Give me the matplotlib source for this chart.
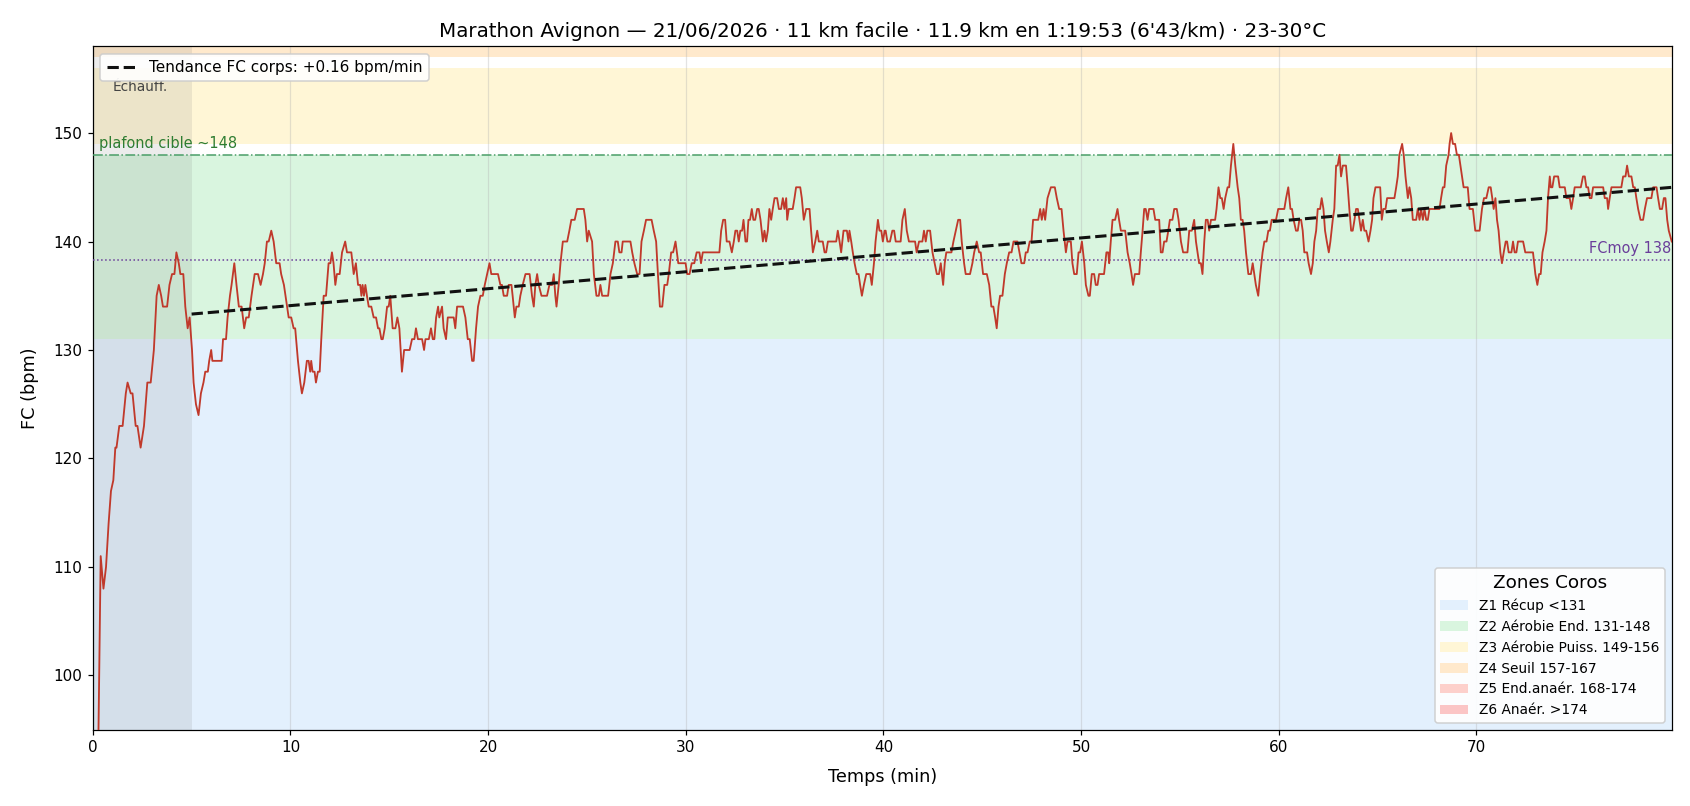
import numpy as np
import matplotlib
matplotlib.use("Agg")
import matplotlib.pyplot as plt
from matplotlib.patches import Patch

# Heart-rate samples (minute, bpm) in 10-minute chunks
hr_00_10 = [(0.00, 80), (0.22, 85), (0.40, 111), (0.54, 108), (0.67, 110), (0.80, 114), (0.92, 117),
            (1.04, 118), (1.14, 121), (1.20, 121), (1.34, 123), (1.51, 123), (1.67, 126), (1.76, 127),
            (1.92, 126), (2.01, 126), (2.17, 123), (2.26, 123), (2.42, 121), (2.59, 123), (2.76, 127),
            (2.93, 127), (3.09, 130), (3.23, 135), (3.34, 136), (3.46, 135), (3.55, 134), (3.76, 134),
            (3.88, 136), (4.01, 137), (4.13, 137), (4.23, 139), (4.35, 138), (4.43, 137), (4.58, 137),
            (4.68, 134), (4.80, 132), (4.90, 133), (5.02, 130), (5.10, 127), (5.22, 125), (5.35, 124),
            (5.47, 126), (5.60, 127), (5.69, 128), (5.82, 128), (5.89, 129), (5.99, 130), (6.05, 129),
            (6.52, 129), (6.59, 131), (6.74, 131), (6.82, 133), (6.94, 135), (7.02, 136), (7.16, 138),
            (7.27, 136), (7.39, 134), (7.53, 134), (7.66, 132), (7.76, 133), (7.89, 133), (8.03, 135),
            (8.19, 137), (8.36, 137), (8.49, 136), (8.61, 137), (8.70, 138), (8.81, 140), (8.90, 140),
            (9.03, 141), (9.15, 140), (9.28, 138), (9.45, 138), (9.53, 137), (9.67, 136)]
hr_10_20 = [(9.91, 133), (10.04, 133), (10.16, 132), (10.24, 132), (10.38, 129), (10.50, 127),
            (10.58, 126), (10.70, 127), (10.83, 129), (10.92, 129), (11.00, 128), (11.05, 129),
            (11.12, 128), (11.22, 128), (11.29, 127), (11.39, 128), (11.48, 128), (11.56, 131),
            (11.68, 135), (11.80, 135), (11.93, 138), (12.02, 138), (12.10, 139), (12.18, 138),
            (12.27, 136), (12.35, 137), (12.49, 137), (12.61, 139), (12.77, 140), (12.86, 139),
            (13.08, 139), (13.20, 137), (13.31, 138), (13.42, 136), (13.53, 136), (13.59, 135),
            (13.65, 136), (13.72, 135), (13.79, 136), (13.87, 135), (13.96, 134), (14.09, 134),
            (14.21, 133), (14.33, 133), (14.43, 132), (14.50, 132), (14.60, 131), (14.67, 131),
            (14.77, 132), (14.89, 134), (14.97, 134), (15.05, 135), (15.17, 132), (15.31, 132),
            (15.41, 133), (15.51, 132), (15.64, 128), (15.75, 130), (16.03, 130), (16.15, 131),
            (16.27, 131), (16.35, 132), (16.45, 131), (16.66, 131), (16.76, 130), (16.83, 131),
            (17.00, 131), (17.11, 132), (17.20, 131), (17.28, 131), (17.37, 133), (17.47, 134),
            (17.53, 133), (17.67, 134), (17.75, 132), (17.87, 131), (17.96, 133), (18.26, 133),
            (18.34, 132), (18.43, 134), (18.73, 134), (18.85, 133), (18.97, 131), (19.07, 131),
            (19.19, 129), (19.27, 129), (19.39, 132), (19.49, 134), (19.61, 135), (19.73, 135),
            (19.83, 136), (19.95, 137), (20.07, 138)]
hr_20_30 = [(20.16, 137), (20.50, 137), (20.62, 136), (20.70, 136), (20.79, 135), (20.96, 135),
            (21.04, 136), (21.18, 136), (21.24, 135), (21.35, 133), (21.43, 134), (21.55, 134),
            (21.63, 135), (21.75, 136), (21.89, 137), (22.10, 137), (22.22, 135), (22.31, 134),
            (22.39, 136), (22.48, 137), (22.56, 136), (22.70, 135), (22.98, 135), (23.10, 136),
            (23.24, 136), (23.32, 137), (23.40, 135), (23.46, 134), (23.57, 136), (23.66, 138),
            (23.78, 140), (24.00, 140), (24.11, 141), (24.21, 142), (24.38, 142), (24.50, 143),
            (24.84, 143), (24.92, 142), (25.01, 140), (25.09, 141), (25.26, 140), (25.35, 137),
            (25.48, 135), (25.60, 135), (25.68, 136), (25.77, 135), (26.07, 135), (26.19, 137),
            (26.31, 138), (26.44, 140), (26.56, 140), (26.64, 139), (26.75, 139), (26.81, 140),
            (27.20, 140), (27.29, 139), (27.40, 138), (27.54, 137), (27.66, 137), (27.76, 140),
            (27.88, 141), (27.99, 142), (28.27, 142), (28.38, 141), (28.50, 140), (28.59, 137),
            (28.69, 134), (28.81, 134), (28.92, 136), (29.06, 136), (29.14, 137), (29.26, 139),
            (29.36, 139), (29.48, 140), (29.62, 138), (29.99, 138), (30.07, 137), (30.19, 137)]
hr_30_40 = [(30.30, 138), (30.43, 138), (30.55, 139), (30.69, 139), (30.77, 138), (30.86, 139),
            (31.70, 139), (31.79, 141), (31.89, 142), (31.99, 142), (32.07, 140), (32.21, 140),
            (32.33, 139), (32.43, 140), (32.51, 141), (32.60, 141), (32.68, 140), (32.76, 141),
            (32.85, 141), (32.92, 142), (33.02, 140), (33.10, 140), (33.17, 142), (33.25, 142),
            (33.34, 143), (33.42, 142), (33.51, 142), (33.61, 143), (33.69, 143), (33.78, 142),
            (33.90, 140), (33.98, 141), (34.06, 140), (34.15, 141), (34.23, 143), (34.32, 142),
            (34.40, 143), (34.49, 144), (34.62, 144), (34.71, 143), (34.82, 143), (34.91, 144),
            (34.99, 143), (35.08, 144), (35.13, 142), (35.21, 143), (35.41, 143), (35.50, 144),
            (35.58, 145), (35.79, 145), (35.87, 144), (35.97, 142), (36.09, 143), (36.26, 143),
            (36.34, 141), (36.43, 139), (36.55, 140), (36.65, 141), (36.73, 140), (36.93, 140),
            (37.02, 139), (37.10, 139), (37.19, 140), (37.61, 140), (37.69, 141), (37.78, 140),
            (37.86, 139), (37.98, 141), (38.15, 141), (38.23, 140), (38.28, 141), (38.37, 140),
            (38.45, 139), (38.54, 138), (38.65, 137), (38.74, 137), (38.82, 136), (38.91, 135),
            (39.01, 136), (39.13, 137), (39.33, 137), (39.41, 136), (39.52, 138), (39.60, 140),
            (39.72, 142), (39.80, 141), (39.89, 141), (39.97, 140), (40.06, 141)]
hr_40_50 = [(40.11, 141), (40.20, 140), (40.33, 140), (40.45, 141), (40.54, 141), (40.62, 140),
            (40.87, 140), (40.96, 142), (41.08, 143), (41.18, 141), (41.29, 140), (41.60, 140),
            (41.68, 139), (41.80, 140), (41.97, 140), (42.05, 141), (42.14, 140), (42.22, 141),
            (42.36, 141), (42.48, 139), (42.59, 138), (42.70, 137), (42.81, 137), (42.90, 138),
            (43.02, 136), (43.10, 138), (43.18, 139), (43.44, 139), (43.54, 140), (43.66, 141),
            (43.78, 142), (43.88, 142), (43.96, 140), (44.08, 138), (44.16, 137), (44.38, 137),
            (44.50, 138), (44.59, 139), (44.72, 140), (44.84, 139), (44.92, 139), (45.04, 137),
            (45.23, 137), (45.35, 136), (45.46, 134), (45.56, 134), (45.65, 133), (45.73, 132),
            (45.82, 134), (45.90, 135), (46.02, 135), (46.14, 137), (46.24, 138), (46.36, 139),
            (46.48, 139), (46.58, 140), (46.78, 140), (46.88, 139), (46.98, 138), (47.12, 138),
            (47.20, 139), (47.29, 139), (47.40, 140), (47.49, 140), (47.57, 142), (47.83, 142),
            (47.93, 143), (48.01, 142), (48.10, 143), (48.18, 142), (48.30, 144), (48.47, 145),
            (48.67, 145), (48.77, 144), (48.89, 143), (49.01, 143), (49.11, 141), (49.23, 139),
            (49.31, 140), (49.48, 140), (49.56, 138), (49.65, 137), (49.78, 137), (49.87, 139),
            (49.95, 139), (50.04, 140), (50.16, 138), (50.24, 136)]
hr_50_60 = [(50.37, 135), (50.44, 135), (50.54, 137), (50.66, 137), (50.74, 136), (50.83, 136),
            (50.91, 137), (51.16, 137), (51.28, 139), (51.37, 139), (51.42, 138), (51.50, 140),
            (51.59, 142), (51.72, 142), (51.84, 143), (51.92, 142), (52.01, 141), (52.23, 141),
            (52.35, 139), (52.46, 138), (52.55, 137), (52.63, 136), (52.72, 137), (52.94, 137),
            (53.02, 139), (53.11, 141), (53.19, 143), (53.27, 143), (53.36, 142), (53.44, 143),
            (53.66, 143), (53.75, 142), (53.95, 142), (54.03, 139), (54.12, 139), (54.20, 140),
            (54.32, 140), (54.41, 141), (54.49, 142), (54.62, 142), (54.71, 143), (54.84, 143),
            (54.93, 142), (55.05, 140), (55.16, 139), (55.38, 139), (55.47, 141), (55.60, 141),
            (55.72, 142), (55.81, 140), (55.89, 139), (55.97, 138), (56.06, 138), (56.14, 137),
            (56.23, 140), (56.31, 142), (56.40, 142), (56.48, 141), (56.57, 142), (56.78, 142),
            (56.85, 143), (56.95, 145), (57.04, 144), (57.12, 144), (57.21, 143), (57.29, 144),
            (57.41, 145), (57.49, 145), (57.58, 147), (57.70, 149), (57.80, 147), (57.92, 145),
            (58.00, 144), (58.08, 142), (58.17, 142), (58.25, 141), (58.34, 139), (58.46, 137),
            (58.59, 137), (58.68, 138), (58.76, 137), (58.84, 136), (58.96, 135), (59.06, 137),
            (59.18, 139), (59.27, 140), (59.38, 140), (59.47, 141), (59.55, 141), (59.64, 142),
            (59.86, 142), (59.97, 143), (60.11, 143)]
hr_60_70 = [(60.28, 143), (60.37, 144), (60.48, 145), (60.59, 143), (60.67, 143), (60.75, 142),
            (60.87, 141), (60.96, 141), (61.04, 142), (61.13, 142), (61.21, 141), (61.29, 139),
            (61.43, 139), (61.51, 138), (61.63, 137), (61.72, 138), (61.80, 140), (61.89, 141),
            (61.97, 143), (62.09, 143), (62.17, 144), (62.26, 143), (62.34, 141), (62.43, 140),
            (62.53, 139), (62.61, 140), (62.73, 142), (62.81, 143), (62.90, 147), (62.98, 147),
            (63.07, 148), (63.15, 146), (63.24, 147), (63.40, 147), (63.49, 145), (63.57, 143),
            (63.66, 141), (63.74, 141), (63.83, 142), (63.91, 143), (64.00, 143), (64.08, 142),
            (64.16, 141), (64.25, 142), (64.33, 141), (64.42, 141), (64.54, 140), (64.64, 141),
            (64.72, 142), (64.79, 144), (64.89, 145), (65.13, 145), (65.21, 142), (65.29, 143),
            (65.40, 143), (65.48, 144), (65.85, 144), (65.94, 145), (66.02, 146), (66.10, 148),
            (66.24, 149), (66.32, 148), (66.41, 146), (66.53, 144), (66.61, 145), (66.70, 144),
            (66.78, 142), (66.95, 142), (67.03, 143), (67.12, 142), (67.20, 143), (67.29, 142),
            (67.37, 143), (67.46, 142), (67.54, 142), (67.62, 143), (68.13, 143), (68.21, 144),
            (68.30, 145), (68.38, 145), (68.47, 147), (68.59, 148), (68.64, 149), (68.72, 150),
            (68.81, 149), (68.92, 149), (69.01, 148), (69.11, 148), (69.19, 147), (69.35, 145),
            (69.56, 145), (69.65, 143), (69.82, 143), (69.94, 141), (70.16, 141)]
hr_70_80 = [(70.28, 143), (70.38, 144), (70.50, 144), (70.62, 145), (70.72, 145), (70.80, 144),
            (70.87, 143), (70.96, 144), (71.04, 142), (71.12, 141), (71.21, 139), (71.29, 138),
            (71.38, 139), (71.48, 140), (71.55, 140), (71.63, 139), (71.77, 139), (71.85, 140),
            (71.93, 139), (72.02, 139), (72.10, 140), (72.36, 140), (72.47, 139), (72.86, 139),
            (72.98, 137), (73.08, 136), (73.17, 137), (73.25, 137), (73.34, 139), (73.45, 140),
            (73.54, 141), (73.62, 144), (73.71, 146), (73.76, 145), (73.84, 145), (73.93, 146),
            (74.13, 146), (74.21, 145), (74.47, 145), (74.55, 144), (74.72, 144), (74.80, 143),
            (74.89, 144), (74.97, 145), (75.28, 145), (75.39, 146), (75.48, 146), (75.56, 145),
            (75.65, 145), (75.73, 144), (75.82, 144), (75.90, 145), (76.41, 145), (76.49, 144),
            (76.61, 144), (76.66, 143), (76.74, 144), (76.83, 145), (77.33, 145), (77.42, 146),
            (77.54, 146), (77.62, 147), (77.71, 146), (77.84, 146), (77.93, 145), (78.01, 145),
            (78.09, 144), (78.18, 143), (78.30, 142), (78.43, 142), (78.52, 143), (78.63, 144),
            (78.85, 144), (78.94, 145), (79.11, 145), (79.19, 144), (79.28, 143), (79.39, 143),
            (79.48, 144), (79.56, 144), (79.65, 142), (79.73, 141), (79.88, 140)]

# Coros zones
zone_labels = ["Z1 Récup <131", "Z2 Aérobie End. 131-148", "Z3 Aérobie Puiss. 149-156",
               "Z4 Seuil 157-167", "Z5 End.anaér. 168-174", "Z6 Anaér. >174"]
zone_lo = [0, 131, 149, 157, 168, 174]
zone_hi = [131, 148, 156, 167, 174, 230]
zone_colors = ["#e3f0fd", "#d9f5df", "#fff6d6", "#ffe9cc", "#fdd0cb", "#fbc5c5"]

WARMUP_END = 5.0
TARGET_CEIL = 148
TITLE = "Marathon Avignon — 21/06/2026 · 11 km facile · 11.9 km en 1:19:53 (6'43/km) · 23-30°C"

samples = hr_00_10 + hr_10_20 + hr_20_30 + hr_30_40 + hr_40_50 + hr_50_60 + hr_60_70 + hr_70_80
t = np.array([s[0] for s in samples])
hr = np.array([s[1] for s in samples], dtype=float)

DPI = 110
fig = plt.figure(figsize=(1690 / DPI, 806 / DPI), dpi=DPI)
ax = fig.add_axes([0.0549, 0.0947, 0.9343, 0.8479])

for lo, hi, c in zip(zone_lo, zone_hi, zone_colors):
    ax.axhspan(lo, hi, color=c, zorder=0, lw=0)
ax.axvspan(0, WARMUP_END, color="gray", alpha=0.15, zorder=1, lw=0)
ax.grid(axis="x", color="#b0b0b0", alpha=0.35, zorder=1)
ax.set_axisbelow(True)

ax.plot(t, hr, color="#c0392b", lw=1.2, zorder=4)

# trend over the "body" of the run (after warm-up)
body = t >= WARMUP_END
slope, icpt = np.polyfit(t[body], hr[body], 1)
tt = np.array([WARMUP_END, t[-1]])
ax.plot(tt, slope * tt + icpt, "--", color="#111111", lw=2, zorder=5,
        label=f"Tendance FC corps: {slope:+.2f} bpm/min")

ax.axhline(TARGET_CEIL, color="#4a9e68", ls="-.", lw=1, zorder=3)
ax.text(0.3, TARGET_CEIL + 0.3, f"plafond cible ~{TARGET_CEIL}", color="#2e7d32",
        fontsize=9.5, va="bottom", ha="left", zorder=6)

# time-weighted mean (samples are irregular)
mean_hr = np.trapezoid(hr, t) / (t[-1] - t[0])
ax.axhline(mean_hr, color="#6a3d9a", ls=":", lw=1, zorder=3)
ax.text(t[-1] - 0.05, mean_hr + 0.4, f"FCmoy {mean_hr:.0f}", color="#6a3d9a",
        fontsize=9.5, va="bottom", ha="right", zorder=6)

ax.text(1.0, 154.2, "Échauff.", color="#444444", fontsize=9, ha="left", va="center", zorder=2)

ax.set_xlim(0, t[-1])
ax.set_ylim(95, 158)
ax.set_xlabel("Temps (min)", fontsize=11.5, labelpad=8)
ax.set_ylabel("FC (bpm)", fontsize=11.5, labelpad=9)
ax.set_title(TITLE, fontsize=13)

leg1 = ax.legend(loc="upper left", fontsize=10, framealpha=0.9)
leg1.set_zorder(10)
ax.add_artist(leg1)

handles = [Patch(facecolor=c, edgecolor="none") for c in zone_colors]
leg2 = ax.legend(handles, zone_labels, loc="lower right", fontsize=9,
                 title="Zones Coros", title_fontsize=12, framealpha=0.9)
leg2.set_zorder(10)

fig.savefig("out.png", dpi=DPI)
